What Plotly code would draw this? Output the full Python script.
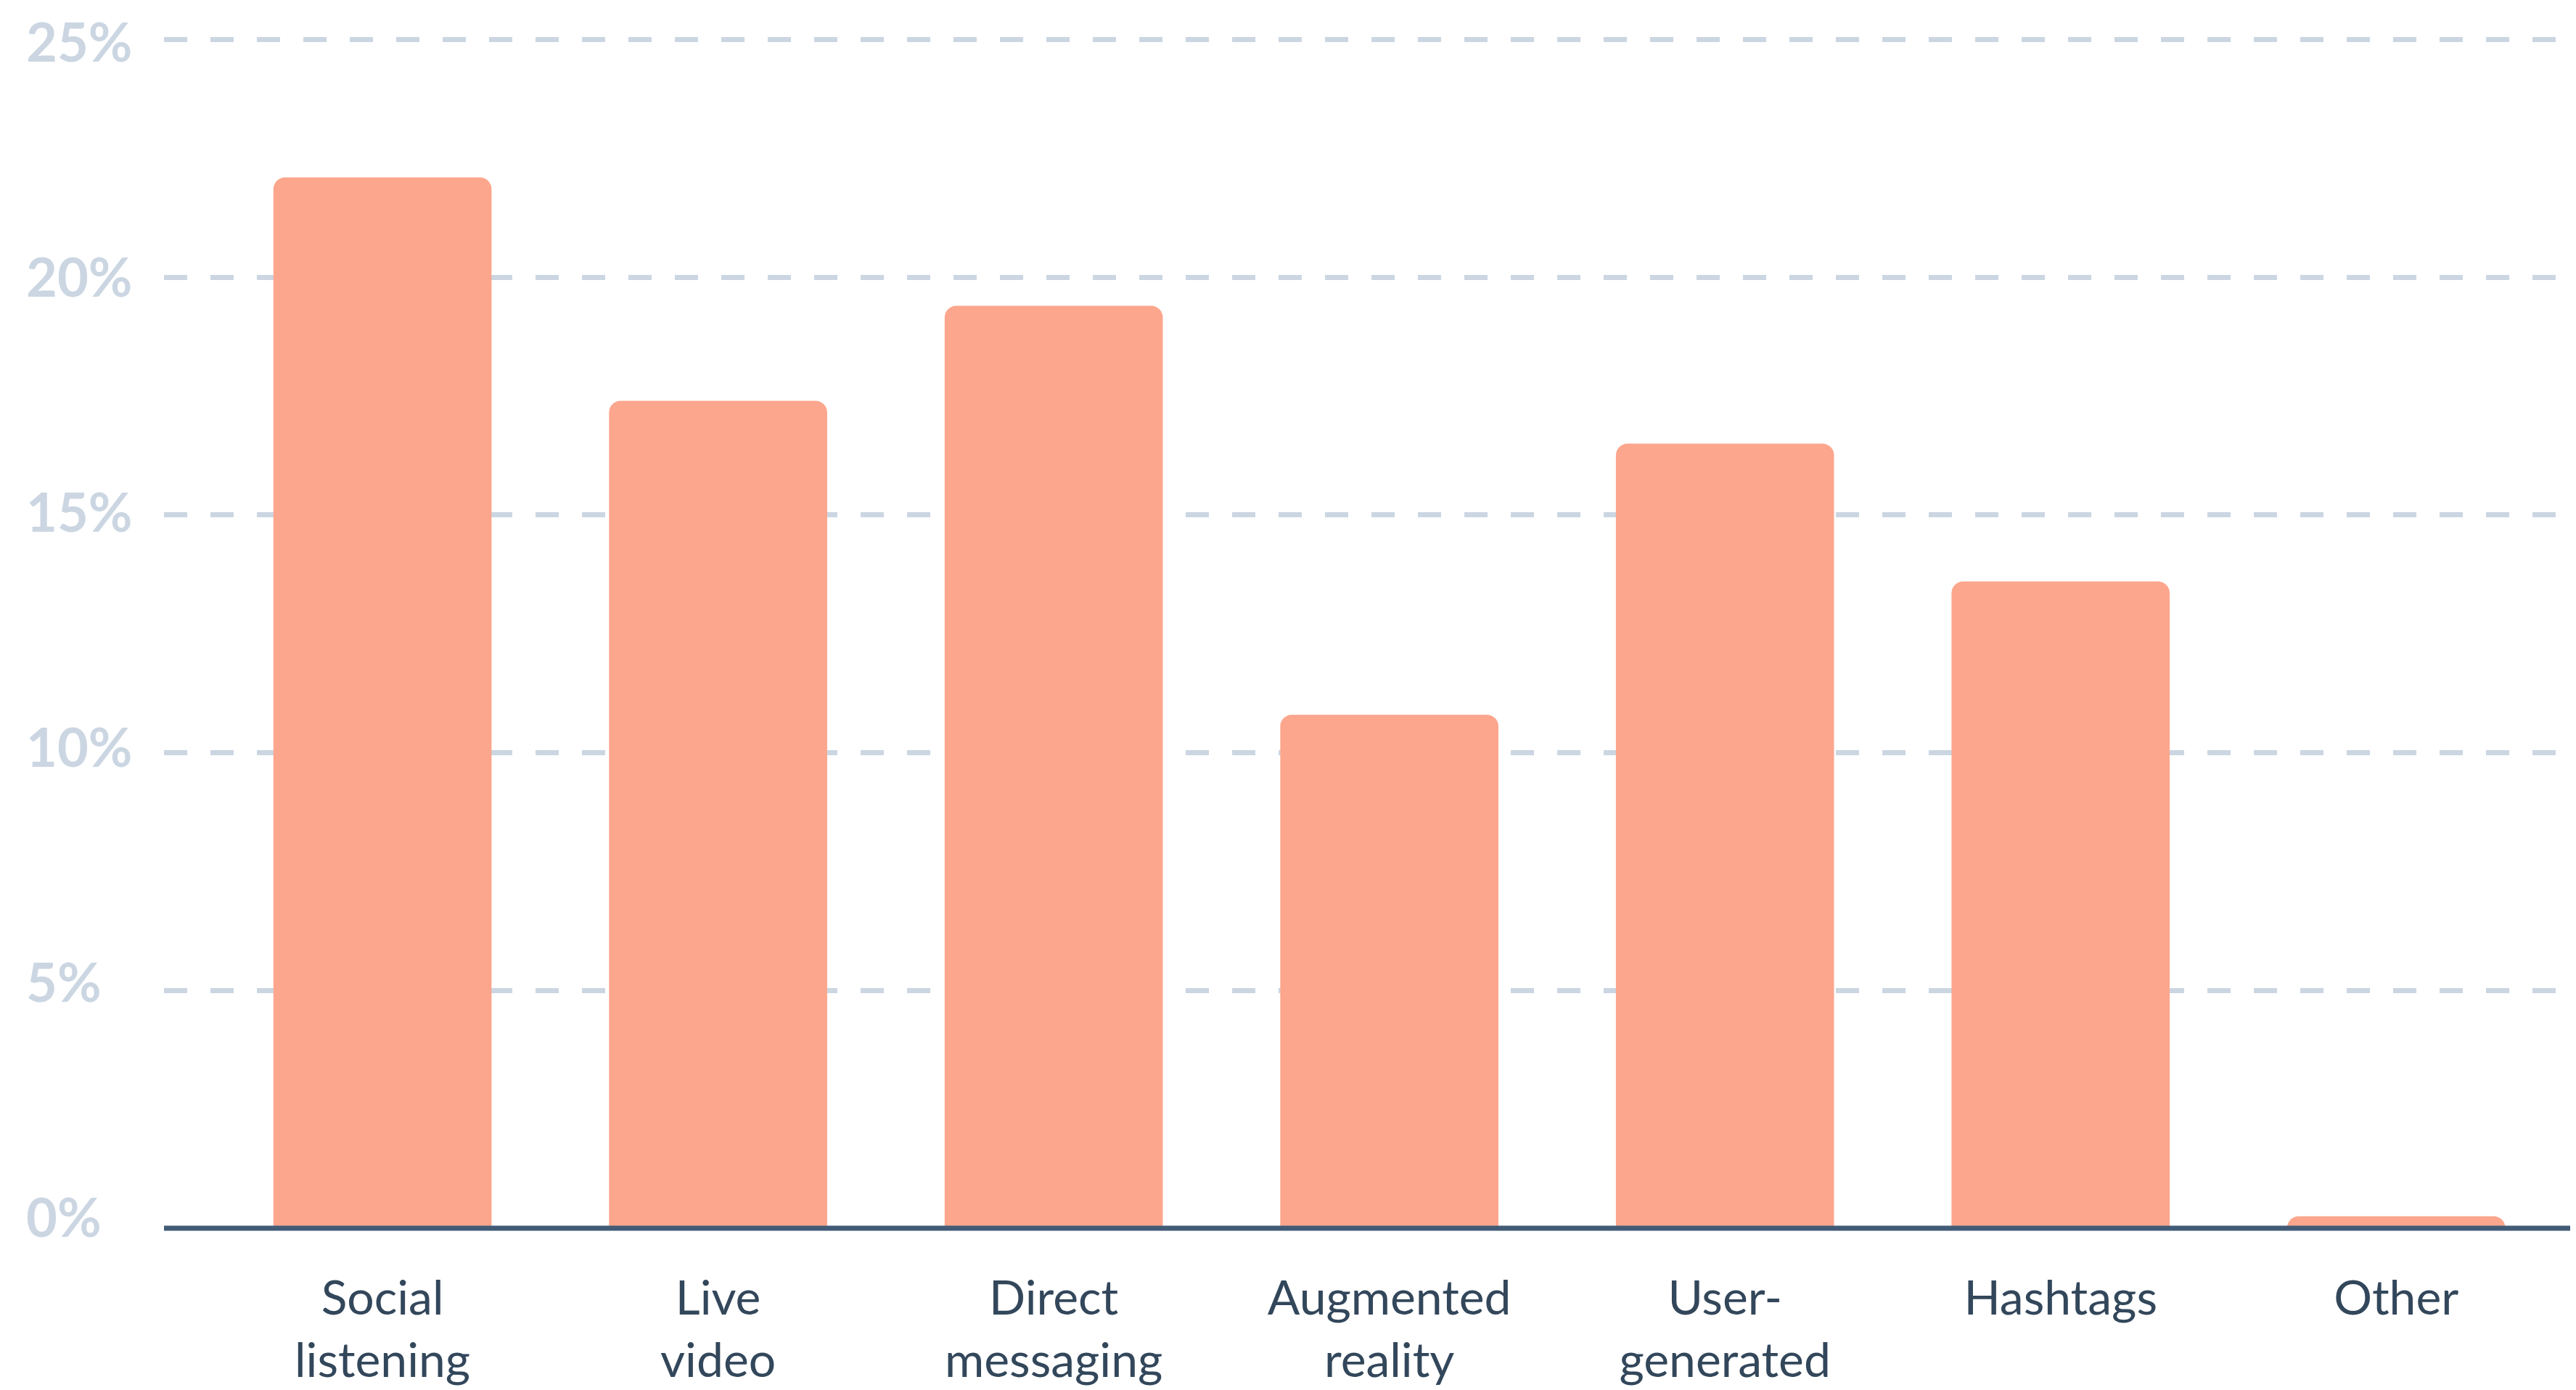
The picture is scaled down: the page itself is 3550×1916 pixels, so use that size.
import plotly.graph_objects as go

CATEGORIES = ["Social<br>listening", "Live<br>video", "Direct<br>messaging",
              "Augmented<br>reality", "User-<br>generated", "Hashtags", "Other"]
VALUES = [22.1, 17.4, 19.4, 10.8, 16.5, 13.6, 0.25]
Y_TICKS = [0, 5, 10, 15, 20, 25]
Y_LABELS = ["0%", "5%", "10%", "15%", "20%", "25%"]

BAR = "#FCA68D"
GRID = "#CBD6E2"
AXIS = "#425B76"
TEXT = "#33475B"

fig = go.Figure()
fig.add_trace(go.Bar(
    x=CATEGORIES, y=VALUES,
    marker=dict(color=BAR, line=dict(width=0), cornerradius=16),
    hoverinfo="skip",
))

# y labels are left-aligned and spaced a touch tighter than the grid in the
# reference, so they are annotations on a hidden overlay axis
for v, lab in zip(Y_TICKS, Y_LABELS):
    fig.add_annotation(
        x=-0.0575, xref="paper", y=v, yref="y2",
        text=lab, showarrow=False, xanchor="left", yanchor="middle",
        font=dict(family="Lato, sans-serif", size=74, color=GRID, weight="bold"),
    )

# dark baseline over the bars (paper refs so it is not clipped)
fig.add_shape(type="line", xref="paper", x0=0, x1=1, yref="paper", y0=0, y1=0,
              line=dict(color=AXIS, width=7), layer="above")

fig.update_layout(
    width=3550, height=1916,
    plot_bgcolor="white", paper_bgcolor="white",
    margin=dict(l=218, r=0, t=13, b=231),
    showlegend=False,
    bargap=0.35,
    font=dict(family="Lato, sans-serif", color=TEXT, size=66),
    xaxis=dict(range=[-0.651, 6.553], showgrid=False, zeroline=False,
               showline=False, ticks="", tickfont=dict(size=66, color=TEXT),
               ticklabelstandoff=52),
    yaxis=dict(range=[0, 25.51], tickvals=Y_TICKS, showticklabels=False,
               showgrid=True, gridcolor=GRID, gridwidth=7, griddash="32px,32px",
               zeroline=False, showline=False),
    yaxis2=dict(range=[-0.247, 25.553], overlaying="y", visible=False),
)

fig.write_html("out.html")
